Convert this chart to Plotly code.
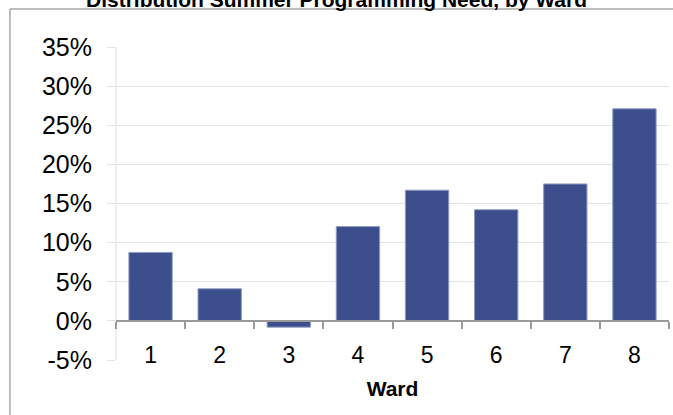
import plotly.graph_objects as go

wards = ["1", "2", "3", "4", "5", "6", "7", "8"]
need_pct = [8.75, 4.1, -0.8, 12.05, 16.7, 14.2, 17.5, 27.1]
y_ticks = [-5, 0, 5, 10, 15, 20, 25, 30, 35]
y_tick_labels = [f"{v}%" for v in y_ticks]

title_text = "Distribution Summer Programming Need, by Ward"
x_title = "Ward"

W, H = 673, 415
L, R, T, B = 116, 4.3, 47, 54.5
pw, ph = W - L - R, H - T - B

fig = go.Figure(
    go.Bar(
        x=wards,
        y=need_pct,
        marker=dict(color="#3C4F8C", line=dict(color="#8E9AC0", width=1)),
        width=0.627,
    )
)

fig.update_layout(
    width=W,
    height=H,
    margin=dict(l=L, r=R, t=T, b=B, autoexpand=False),
    paper_bgcolor="white",
    plot_bgcolor="white",
    showlegend=False,
    font=dict(family="Liberation Sans, Arial, sans-serif", color="black"),
    title=dict(
        text=f"<b>{title_text}</b>",
        x=0.5,
        xref="container",
        xanchor="center",
        y=1,
        yref="container",
        yanchor="middle",
        font=dict(size=21, color="black"),
    ),
    xaxis=dict(
        type="category",
        anchor="free",
        position=0.125,
        showline=True,
        linecolor="#9a9a9a",
        linewidth=1.5,
        ticks="outside",
        ticklen=7,
        tickwidth=1.5,
        tickcolor="#9a9a9a",
        tickson="boundaries",
        showgrid=False,
        showspikes=False,
        tickfont=dict(size=23),
        ticklabelstandoff=14,
        title=dict(text=f"<b>{x_title}</b>", font=dict(size=21), standoff=13),
        automargin=False,
    ),
    yaxis=dict(
        range=[-5, 35],
        tickvals=y_ticks,
        ticktext=y_tick_labels,
        showgrid=True,
        gridcolor="#e3e3e3",
        gridwidth=1.2,
        zeroline=False,
        showline=False,
        ticks="outside",
        ticklen=8,
        tickcolor="#e3e3e3",
        tickfont=dict(size=25),
        ticklabelstandoff=10,
        automargin=False,
    ),
)

# y-axis line at the left edge of the plot area
fig.add_shape(type="line", xref="paper", yref="paper",
              x0=0, x1=0, y0=0, y1=1,
              line=dict(color="#dddddd", width=1), layer="below")

# outer chart frame: left and top edges (the rest lies beyond the window)
fx0 = (10 - L) / pw
fy1 = 1 + (T - 9) / ph
frame = dict(color="#a8a8a8", width=1.5)
fig.add_shape(type="line", xref="paper", yref="paper",
              x0=fx0, x1=fx0, y0=-0.4, y1=fy1, line=frame, layer="below")
fig.add_shape(type="line", xref="paper", yref="paper",
              x0=fx0, x1=1.2, y0=fy1, y1=fy1, line=frame, layer="below")

css = (
    "var s=document.createElement('style');"
    "s.textContent='html,body{margin:0;padding:0;overflow:hidden;background:#fff}';"
    "document.head.appendChild(s);"
)

fig.write_html(
    "out.html",
    config={"displayModeBar": False},
    post_script=css,
)
